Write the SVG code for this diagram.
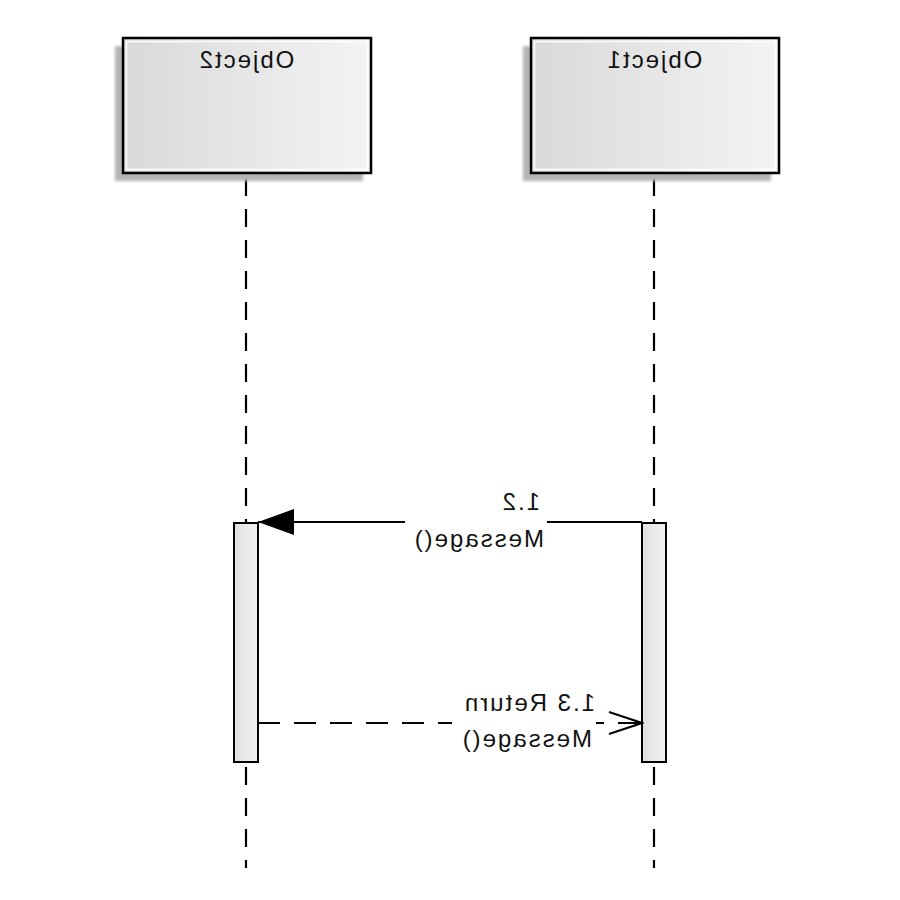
<svg xmlns="http://www.w3.org/2000/svg" width="900" height="900" viewBox="0 0 900 900">
  <style>
    .box { fill: url(#boxGrad); stroke: #000; stroke-width: 2.5; }
    .inner { fill: none; stroke: #fff; stroke-width: 1.5; }
    .shadow { fill: #b4b4b4; filter: url(#blur); }
    .life { stroke: #000; stroke-width: 2.2; stroke-dasharray: 18 13; fill: none; }
    .act { fill: url(#actGrad); stroke: #000; stroke-width: 2; }
    .msg { stroke: #000; stroke-width: 2; fill: none; }
    .ret { stroke: #000; stroke-width: 2; fill: none; stroke-dasharray: 22 14; }
    .t { font-family: "Liberation Sans", Arial, sans-serif; font-size: 24px; letter-spacing: 2px; fill: #111; }
    .bg { fill: #fff; }
  </style>
  <defs>
    <linearGradient id="boxGrad" x1="0" y1="0" x2="1" y2="0">
      <stop offset="0" stop-color="#f4f4f4"/>
      <stop offset="1" stop-color="#d9d9d9"/>
    </linearGradient>
    <linearGradient id="actGrad" x1="0" y1="0" x2="1" y2="0">
      <stop offset="0" stop-color="#f2f2f2"/>
      <stop offset="1" stop-color="#e0e0e0"/>
    </linearGradient>
    <filter id="blur" x="-5%" y="-5%" width="110%" height="110%">
      <feGaussianBlur stdDeviation="1.5"/>
    </filter>
    <marker id="filled" markerWidth="36" markerHeight="26" refX="36" refY="13" orient="auto" markerUnits="userSpaceOnUse">
      <path d="M0,0 L36,13 L0,26 Z" fill="#000"/>
    </marker>
    <marker id="open" markerWidth="36" markerHeight="26" refX="34" refY="12" orient="auto" markerUnits="userSpaceOnUse">
      <path d="M1,1 L34,12 L1,23" fill="none" stroke="#000" stroke-width="2"/>
    </marker>
  </defs>
  <rect width="900" height="900" fill="#fff"/>
  <g transform="matrix(-1 0 0 1 900 0)">
    <g id="lifelines">
      <line class="life" x1="246" y1="173" x2="246" y2="868" stroke-dashoffset="-5"/>
      <line class="life" x1="654" y1="173" x2="654" y2="868" stroke-dashoffset="-5"/>
    </g>
    <g id="object1">
      <rect class="shadow" x="129" y="46" width="248" height="135"/>
      <rect class="box" x="121" y="38" width="248" height="135"/>
      <rect class="inner" x="124.5" y="41.5" width="241" height="128"/>
      <text class="t" x="246" y="68" text-anchor="middle">Object1</text>
    </g>
    <g id="object2">
      <rect class="shadow" x="537" y="46" width="248" height="135"/>
      <rect class="box" x="529" y="38" width="248" height="135"/>
      <rect class="inner" x="532.5" y="41.5" width="241" height="128"/>
      <text class="t" x="654" y="68" text-anchor="middle">Object2</text>
    </g>
    <g id="activation1">
      <rect class="act" x="234" y="523" width="24" height="239"/>
    </g>
    <g id="activation2">
      <rect class="act" x="642" y="523" width="24" height="239"/>
    </g>
    <g id="connectors">
      <line class="msg" x1="258" y1="522" x2="642" y2="522" marker-end="url(#filled)"/>
      <line class="ret" x1="642" y1="723" x2="258" y2="723" marker-end="url(#open)"/>
    </g>
    <g id="label-msg12">
      <rect class="bg" x="353" y="514" width="142" height="16"/>
      <text class="t" x="360" y="510">1.2</text>
      <text class="t" x="356" y="547">Message()</text>
    </g>
    <g id="label-ret13">
      <rect class="bg" x="304" y="715" width="144" height="16"/>
      <text class="t" x="305" y="711">1.3 Return</text>
      <text class="t" x="308" y="747">Message()</text>
    </g>
  </g>
</svg>
